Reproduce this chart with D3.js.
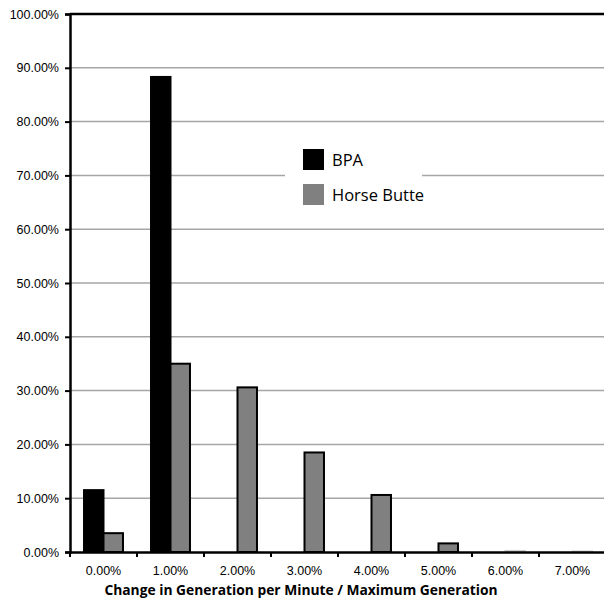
<!DOCTYPE html>
<html>
<head>
<meta charset="utf-8">
<script src="https://cdn.jsdelivr.net/npm/d3@7"></script>
<style>
  body { margin: 0; background: #fff; }
  svg { display: block; font-family: "Open Sans", sans-serif; }
</style>
</head>
<body>
<div id="chart"></div>
<script>
// data
var categories = ["0.00%", "1.00%", "2.00%", "3.00%", "4.00%", "5.00%", "6.00%", "7.00%"];
var seriesNames = ["BPA", "Horse Butte"];
var bpaValues = [11.5, 88.3, 0, 0, 0, 0, 0, 0];
var horseButteValues = [3.5, 35.0, 30.6, 18.5, 10.6, 1.6, 0.2, 0.1];
var yTicks = [0, 10, 20, 30, 40, 50, 60, 70, 80, 90, 100];
var colors = ["#000000", "#808080"];

var width = 604, height = 603;
var plotLeft = 70, plotTop = 14, plotRight = 606, plotBottom = 552;

var svg = d3.select('#chart').append('svg')
  .attr("width", width)
  .attr("height", height);

var x = d3.scaleBand()
  .domain(categories)
  .range([plotLeft, plotRight])
  .paddingInner(0)
  .paddingOuter(0);

var inner = d3.scaleBand()
  .domain(seriesNames)
  .range([0, x.bandwidth()])
  .paddingInner(0)
  .paddingOuter(0.72);

var y = d3.scaleLinear()
  .domain([0, 100])
  .range([plotBottom, plotTop]);

// gridlines
svg.append('g').selectAll('line')
  .data(yTicks.filter(function(d){return d > 0 && d < 100;}))
  .enter().append('line')
  .attr("x1", plotLeft).attr("x2", plotRight)
  .attr("y1", function(d){return y(d);})
  .attr("y2", function(d){return y(d);})
  .attr("stroke", "#a6a6a6")
  .attr("stroke-width", 1.5);

// top border
svg.append('line')
  .attr("x1", plotLeft).attr("x2", plotRight)
  .attr("y1", plotTop).attr("y2", plotTop)
  .attr("stroke", "#000").attr("stroke-width", 2.5);

// bars
var series = [bpaValues, horseButteValues];
series.forEach(function(vals, si){
  svg.append('g').selectAll('rect')
    .data(vals)
    .enter().append('rect')
    .attr("x", function(d, i){return x(categories[i]) + inner(seriesNames[si]);})
    .attr("y", function(d){return y(d);})
    .attr("width", inner.bandwidth())
    .attr("height", function(d){return y(0) - y(d);})
    .attr("fill", colors[si])
    .attr("stroke", function(d){return d > 0.5 ? "#000" : "#d0d0d0";})
    .attr("stroke-width", 2);
});

// y axis
var yAxis = d3.axisLeft(y)
  .tickValues(yTicks)
  .tickSize(5)
  .tickPadding(6)
  .tickFormat(function(d){return d.toFixed(2) + "%";});

var yg = svg.append('g')
  .attr("transform", "translate(" + plotLeft + ",0)")
  .call(yAxis);
yg.select('.domain').attr("stroke-width", 2.5);
yg.selectAll('.tick line').attr("stroke-width", 2);
yg.selectAll('text').attr("font-size", "12.5px").attr("fill", "#000");

// x axis
var xAxis = d3.axisBottom(x)
  .tickSize(0)
  .tickPadding(14);

var xg = svg.append('g')
  .attr("transform", "translate(0," + plotBottom + ")")
  .call(xAxis);
xg.select('.domain').attr("stroke-width", 2.5);
xg.selectAll('text').attr("font-size", "12.5px").attr("fill", "#000");

// x ticks at band edges
svg.append('g').selectAll('line')
  .data(categories)
  .enter().append('line')
  .attr("x1", function(d){return x(d);})
  .attr("x2", function(d){return x(d);})
  .attr("y1", plotBottom).attr("y2", plotBottom + 5)
  .attr("stroke", "#000").attr("stroke-width", 2);

// axis title
svg.append('text')
  .text("Change in Generation per Minute / Maximum Generation")
  .attr("x", 301)
  .attr("y", 595)
  .attr("text-anchor", "middle")
  .attr("font-size", "13.8px")
  .attr("font-weight", "bold");

// legend
var legend = svg.append('g');
legend.append('rect')
  .attr("x", 285).attr("y", 136)
  .attr("width", 137).attr("height", 82)
  .attr("fill", "#fff");
var items = legend.selectAll('g.item')
  .data(seriesNames)
  .enter().append('g')
  .attr("transform", function(d, i){return "translate(303," + (149 + i * 35) + ")";});
items.append('rect')
  .attr("width", 21).attr("height", 21)
  .attr("fill", function(d, i){return colors[i];});
items.append('text')
  .text(function(d){return d;})
  .attr("x", 29).attr("y", 17)
  .attr("font-size", "16.5px");
</script>
</body>
</html>
